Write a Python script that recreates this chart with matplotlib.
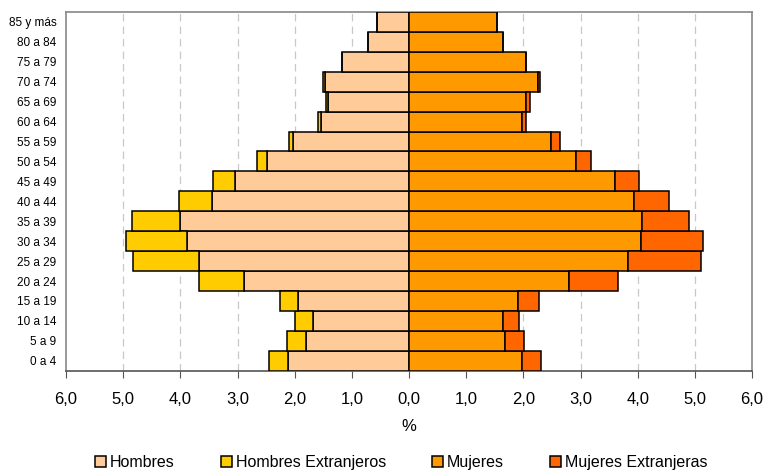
import numpy as np
import matplotlib.pyplot as plt
from matplotlib.ticker import FixedLocator, FuncFormatter

plt.rcParams['font.family'] = ['Liberation Sans', 'DejaVu Sans']

# grupos de edad (de abajo a arriba)
grupos = ['0 a 4', '5 a 9', '10 a 14', '15 a 19', '20 a 24', '25 a 29', '30 a 34',
          '35 a 39', '40 a 44', '45 a 49', '50 a 54', '55 a 59', '60 a 64', '65 a 69',
          '70 a 74', '75 a 79', '80 a 84', '85 y más']

hombres = [2.11, 1.80, 1.68, 1.95, 2.88, 3.68, 3.88, 4.01, 3.45, 3.04, 2.49, 2.03,
           1.54, 1.42, 1.47, 1.17, 0.72, 0.56]
hombres_ext = [0.34, 0.33, 0.31, 0.31, 0.80, 1.14, 1.07, 0.83, 0.57, 0.39, 0.17, 0.07,
               0.05, 0.04, 0.03, 0.0, 0.0, 0.0]
mujeres = [1.97, 1.68, 1.64, 1.90, 2.80, 3.83, 4.06, 4.07, 3.93, 3.60, 2.93, 2.49,
           1.97, 2.04, 2.25, 2.04, 1.64, 1.54]
mujeres_ext = [0.34, 0.33, 0.29, 0.37, 0.85, 1.27, 1.08, 0.83, 0.61, 0.42, 0.25, 0.15,
               0.07, 0.07, 0.05, 0.0, 0.0, 0.0]

h = np.array(hombres)
he = np.array(hombres_ext)
m = np.array(mujeres)
me = np.array(mujeres_ext)
y = np.arange(len(grupos))

fig = plt.figure(figsize=(7.65, 4.70), dpi=100)
ax = fig.add_axes([0.0863, 0.2113, 0.8967, 0.7632])

estilo = dict(height=1.0, edgecolor='black', linewidth=1.1, zorder=3)
ax.barh(y, -h, color='#FFCC99', label='Hombres', **estilo)
ax.barh(y, -he, left=-h, color='#FFCC00', label='Hombres Extranjeros', **estilo)
ax.barh(y, m, color='#FF9900', label='Mujeres', **estilo)
ax.barh(y, me, left=m, color='#FF6600', label='Mujeres Extranjeras', **estilo)

ax.set_xlim(-6, 6)
ax.set_ylim(-0.5, len(grupos) - 0.5)
ax.set_yticks(y)
ax.set_yticklabels(grupos, fontsize=8.5)
ax.tick_params(axis='y', length=0, pad=7)

ax.xaxis.set_major_locator(FixedLocator(np.arange(-6, 7)))
ax.xaxis.set_major_formatter(FuncFormatter(lambda v, p: f'{abs(v):.1f}'.replace('.', ',')))
ax.tick_params(axis='x', length=5, direction='out', color='#555555', labelsize=12, pad=10)

for xv in [-5, -4, -3, -2, -1, 1, 2, 3, 4, 5]:
    ax.axvline(xv, color='#C8C8C8', linestyle=(0, (6, 4)), linewidth=0.9, zorder=1)

for s in ax.spines.values():
    s.set_color('#888888')
    s.set_linewidth(1.2)
ax.spines['bottom'].set_color('#555555')

ax.set_xlabel('%', fontsize=12, labelpad=9)

fig.legend(loc='center', bbox_to_anchor=(401.5 / 765, 1 - 462.5 / 470), ncol=4,
           frameon=False, fontsize=11.5, handlelength=0.69, handleheight=0.69,
           handletextpad=0.23, columnspacing=2.9, borderaxespad=0)

fig.savefig('out.png', dpi=100)
